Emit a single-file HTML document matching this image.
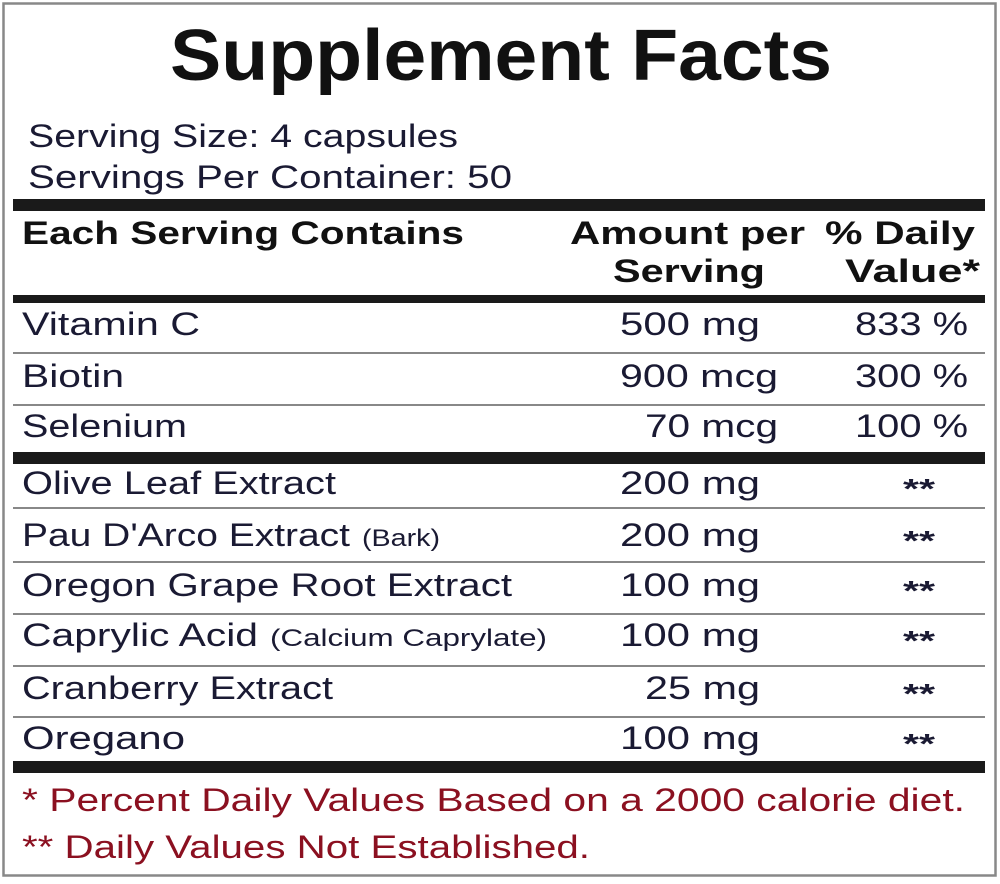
<!DOCTYPE html>
<html><head><style>html,body{margin:0;padding:0;background:#fff}svg{display:block}</style></head>
<body>
<svg width="1000" height="884" viewBox="0 0 1000 884" xmlns="http://www.w3.org/2000/svg" font-family="Liberation Sans, sans-serif">
<rect x="3.5" y="3.5" width="992" height="872" fill="#fff" stroke="#888" stroke-width="2.5"/>
<text x="170" y="80" font-size="72" font-weight="bold" fill="#111" textLength="662" lengthAdjust="spacingAndGlyphs">Supplement Facts</text>
<g fill="#1a1a33" font-size="32">
<text x="28" y="147" textLength="430" lengthAdjust="spacingAndGlyphs">Serving Size: 4 capsules</text>
<text x="28" y="188" textLength="484" lengthAdjust="spacingAndGlyphs">Servings Per Container: 50</text>
</g>
<rect x="13" y="199" width="972" height="12" fill="#1a1a1a"/>
<g fill="#111" font-size="32" font-weight="bold">
<text x="22" y="244" textLength="442" lengthAdjust="spacingAndGlyphs">Each Serving Contains</text>
<text x="570" y="244" textLength="235" lengthAdjust="spacingAndGlyphs">Amount per</text>
<text x="613" y="282" textLength="152" lengthAdjust="spacingAndGlyphs">Serving</text>
<text x="825" y="244" textLength="150" lengthAdjust="spacingAndGlyphs">% Daily</text>
<text x="845" y="282" textLength="135" lengthAdjust="spacingAndGlyphs">Value*</text>
</g>
<rect x="13" y="295" width="972" height="8" fill="#1a1a1a"/>
<g fill="#888">
<rect x="13" y="352" width="972" height="2"/>
<rect x="13" y="404" width="972" height="2"/>
<rect x="13" y="507" width="972" height="2"/>
<rect x="13" y="561" width="972" height="2"/>
<rect x="13" y="613" width="972" height="2"/>
<rect x="13" y="665" width="972" height="2"/>
<rect x="13" y="716" width="972" height="2"/>
</g>
<rect x="13" y="452" width="972" height="12" fill="#1a1a1a"/>
<rect x="13" y="761" width="972" height="12" fill="#1a1a1a"/>
<g fill="#1a1a33" font-size="32">
<text x="22" y="335" textLength="178" lengthAdjust="spacingAndGlyphs">Vitamin C</text>
<text x="620" y="335" textLength="140" lengthAdjust="spacingAndGlyphs">500 mg</text>
<text x="855" y="335" textLength="113" lengthAdjust="spacingAndGlyphs">833 %</text>
<text x="22" y="387" textLength="102" lengthAdjust="spacingAndGlyphs">Biotin</text>
<text x="620" y="387" textLength="158" lengthAdjust="spacingAndGlyphs">900 mcg</text>
<text x="855" y="387" textLength="113" lengthAdjust="spacingAndGlyphs">300 %</text>
<text x="22" y="437" textLength="165" lengthAdjust="spacingAndGlyphs">Selenium</text>
<text x="645" y="437" textLength="133" lengthAdjust="spacingAndGlyphs">70 mcg</text>
<text x="855" y="437" textLength="113" lengthAdjust="spacingAndGlyphs">100 %</text>
<text x="22" y="494" textLength="314" lengthAdjust="spacingAndGlyphs">Olive Leaf Extract</text>
<text x="620" y="494" textLength="140" lengthAdjust="spacingAndGlyphs">200 mg</text>
<text x="22" y="546" textLength="328" lengthAdjust="spacingAndGlyphs">Pau D'Arco Extract</text>
<text x="362" y="546" font-size="24" textLength="78" lengthAdjust="spacingAndGlyphs">(Bark)</text>
<text x="620" y="546" textLength="140" lengthAdjust="spacingAndGlyphs">200 mg</text>
<text x="22" y="596" textLength="490" lengthAdjust="spacingAndGlyphs">Oregon Grape Root Extract</text>
<text x="620" y="596" textLength="140" lengthAdjust="spacingAndGlyphs">100 mg</text>
<text x="22" y="646" textLength="236" lengthAdjust="spacingAndGlyphs">Caprylic Acid</text>
<text x="270" y="646" font-size="24" textLength="277" lengthAdjust="spacingAndGlyphs">(Calcium Caprylate)</text>
<text x="620" y="646" textLength="140" lengthAdjust="spacingAndGlyphs">100 mg</text>
<text x="22" y="699" textLength="311" lengthAdjust="spacingAndGlyphs">Cranberry Extract</text>
<text x="645" y="699" textLength="115" lengthAdjust="spacingAndGlyphs">25 mg</text>
<text x="22" y="749" textLength="163" lengthAdjust="spacingAndGlyphs">Oregano</text>
<text x="620" y="749" textLength="140" lengthAdjust="spacingAndGlyphs">100 mg</text>
</g>
<g fill="#1a1a33" font-size="28" font-weight="bold">
<text x="903" y="498" textLength="32" lengthAdjust="spacingAndGlyphs">**</text>
<text x="903" y="550" textLength="32" lengthAdjust="spacingAndGlyphs">**</text>
<text x="903" y="600" textLength="32" lengthAdjust="spacingAndGlyphs">**</text>
<text x="903" y="650" textLength="32" lengthAdjust="spacingAndGlyphs">**</text>
<text x="903" y="703" textLength="32" lengthAdjust="spacingAndGlyphs">**</text>
<text x="903" y="753" textLength="32" lengthAdjust="spacingAndGlyphs">**</text>
</g>
<g fill="#8b1020" font-size="32">
<text x="22" y="811" textLength="943" lengthAdjust="spacingAndGlyphs">* Percent Daily Values Based on a 2000 calorie diet.</text>
<text x="22" y="858" textLength="568" lengthAdjust="spacingAndGlyphs">** Daily Values Not Established.</text>
</g>
</svg>
</body></html>
